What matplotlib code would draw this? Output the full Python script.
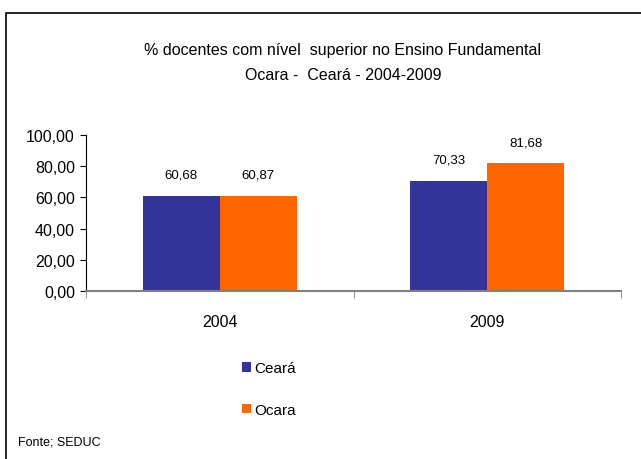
import matplotlib
matplotlib.use("Agg")
import matplotlib.pyplot as plt
from matplotlib.patches import Rectangle
import numpy as np

plt.rcParams["font.family"] = ["Liberation Sans", "DejaVu Sans"]

anos = ["2004", "2009"]
series = ["Ceará", "Ocara"]
ceara = [60.68, 70.33]
ocara = [60.87, 81.68]
rotulos_ceara = ["60,68", "70,33"]
rotulos_ocara = ["60,87", "81,68"]
yticks = [0, 20, 40, 60, 80, 100]
ytick_labels = ["0,00", "20,00", "40,00", "60,00", "80,00", "100,00"]

W, H = 641, 460
fig = plt.figure(figsize=(W / 100, H / 100), dpi=100)

# moldura externa
fig.patches.append(Rectangle((6 / W, -0.1), 1.2, 1 - 14 / H + 0.1,
                             transform=fig.transFigure, fill=False,
                             edgecolor="black", linewidth=1.2))

ax = fig.add_axes([86 / W, 1 - 292.3 / H, (621 - 86) / W, (292.3 - 135.7) / H])
x = np.arange(len(anos))
w = 0.287
b1 = ax.bar(x - w / 2, ceara, w, color="#333399", label=series[0])
b2 = ax.bar(x + w / 2, ocara, w, color="#FF6600", label=series[1])

for rects, labs in ((b1, rotulos_ceara), (b2, rotulos_ocara)):
    for r, t in zip(rects, labs):
        ax.annotate(t, (r.get_x() + r.get_width() / 2, r.get_height()),
                    xytext=(0, 11), textcoords="offset points",
                    ha="center", va="bottom", fontsize=9.5)

ax.set_xlim(-0.5, 1.5)
ax.set_ylim(0, 100)
ax.set_yticks(yticks)
ax.set_yticklabels(ytick_labels, fontsize=11.5)
ax.set_xticks(x)
ax.set_xticklabels(anos, fontsize=11.5)
ax.set_xticks([-0.5, 0.5, 1.5], minor=True)
ax.tick_params(axis="x", which="major", length=0, pad=16)
ax.tick_params(axis="x", which="minor", length=5, direction="out", color="#808080")
ax.tick_params(axis="y", length=4, direction="out", pad=4)
for s in ("top", "right"):
    ax.spines[s].set_visible(False)
ax.spines["bottom"].set_color("#808080")
ax.spines["bottom"].set_linewidth(1.5)
ax.spines["left"].set_color("black")

fig.text(343 / W, 1 - 50 / H,
         "% docentes com nível  superior no Ensino Fundamental",
         ha="center", va="center", fontsize=11.5)
fig.text(343 / W, 1 - 76 / H, "Ocara -  Ceará - 2004-2009",
         ha="center", va="center", fontsize=11.5)

fig.legend(handles=[b1, b2], labels=series, loc="center left",
           bbox_to_anchor=(228 / W, 1 - 390 / H), frameon=False,
           fontsize=11, handlelength=0.6, handleheight=0.6,
           handletextpad=0.2, labelspacing=1.8)

fig.text(18 / W, 1 - 443 / H, "Fonte; SEDUC", ha="left", va="center",
         fontsize=9)

fig.savefig("out.png", dpi=100)
